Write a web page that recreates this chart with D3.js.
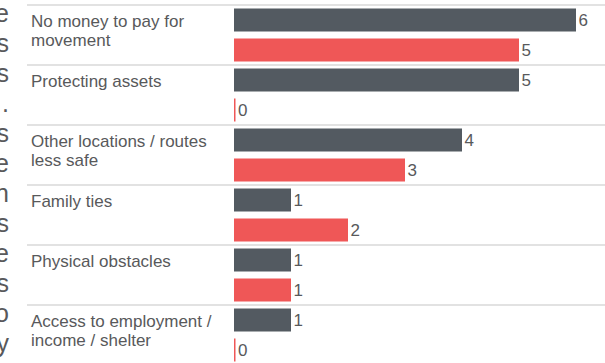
<!DOCTYPE html>
<html>
<head>
<meta charset="utf-8">
<script src="https://cdn.jsdelivr.net/npm/d3@7/dist/d3.min.js"></script>
<style>
  html, body { margin: 0; padding: 0; background: #fff; overflow: hidden; }
  svg { display: block; font-family: "Liberation Sans", Arial, Helvetica, sans-serif; }
</style>
</head>
<body>
<svg id="chart" width="605" height="363"></svg>
<script>
// ---- data ----
const categories = [
  "No money to pay for movement",
  "Protecting assets",
  "Other locations / routes less safe",
  "Family ties",
  "Physical obstacles",
  "Access to employment / income / shelter"
];
const seriesA = [6, 5, 4, 1, 1, 1];   // dark grey
const seriesB = [5, 0, 3, 2, 1, 0];   // red
const seriesNames = ["A", "B"];
// line endings of the neighbouring paragraph, cut off at the left edge
const sideText = ["e", "s", "s", ".", "s", "e", "n", "s", "e", "s", "o", "y"];

// ---- styles ----
const colors = { A: "#535a61", B: "#ef5757" };
const textColor = "#58595b";

const W = 605, H = 363;
const svg = d3.select("#chart");

// side paragraph tail
svg.append("g").selectAll("text").data(sideText).join("text")
  .attr("x", 9).attr("y", (d, i) => 22 + i * 30)
  .attr("text-anchor", "end")
  .attr("font-size", 25).attr("fill", textColor)
  .text(d => d);

const y = d3.scaleBand().domain(categories).range([5, 5 + 60 * categories.length]);
const yi = d3.scaleBand().domain(seriesNames).range([0, y.bandwidth()])
  .paddingInner(7 / 30).paddingOuter(7 / 60);
const x = d3.scaleLinear().domain([0, 6]).range([234, 576]);

const rows = categories.map((c, i) => ({ cat: c, vals: [
  { key: "A", v: seriesA[i] }, { key: "B", v: seriesB[i] } ] }));

// separators
svg.append("g").selectAll("line").data(categories).join("line")
  .attr("x1", 27).attr("x2", W)
  .attr("y1", d => y(d)).attr("y2", d => y(d))
  .attr("stroke", "#e2e2e2").attr("stroke-width", 2);

const g = svg.append("g").selectAll("g").data(rows).join("g")
  .attr("transform", d => `translate(0,${y(d.cat)})`);

// category labels with wrapping
g.append("text")
  .attr("x", 31).attr("y", 22)
  .attr("font-size", 17).attr("fill", textColor)
  .each(function(d) {
    const t = d3.select(this);
    const words = d.cat.split(" ");
    let line = [], lineNo = 0;
    let tspan = t.append("tspan").attr("x", 31).attr("dy", 0);
    for (const w of words) {
      line.push(w);
      tspan.text(line.join(" "));
      if (tspan.node().getComputedTextLength() > 195 && line.length > 1) {
        line.pop();
        tspan.text(line.join(" "));
        line = [w];
        lineNo++;
        tspan = t.append("tspan").attr("x", 31).attr("dy", 19).text(w);
      }
    }
  });

// bars
g.selectAll("rect").data(d => d.vals).join("rect")
  .attr("x", x(0))
  .attr("y", d => yi(d.key))
  .attr("width", d => Math.max(x(d.v) - x(0), 1.5))
  .attr("height", yi.bandwidth())
  .attr("fill", d => colors[d.key]);

// value labels
g.selectAll("text.val").data(d => d.vals).join("text")
  .attr("class", "val")
  .attr("x", d => Math.max(x(d.v), x(0) + 1.5) + 2.5)
  .attr("y", d => yi(d.key) + yi.bandwidth() / 2)
  .attr("dy", "0.36em")
  .attr("font-size", 17).attr("fill", textColor)
  .text(d => d.v);
</script>
</body>
</html>
